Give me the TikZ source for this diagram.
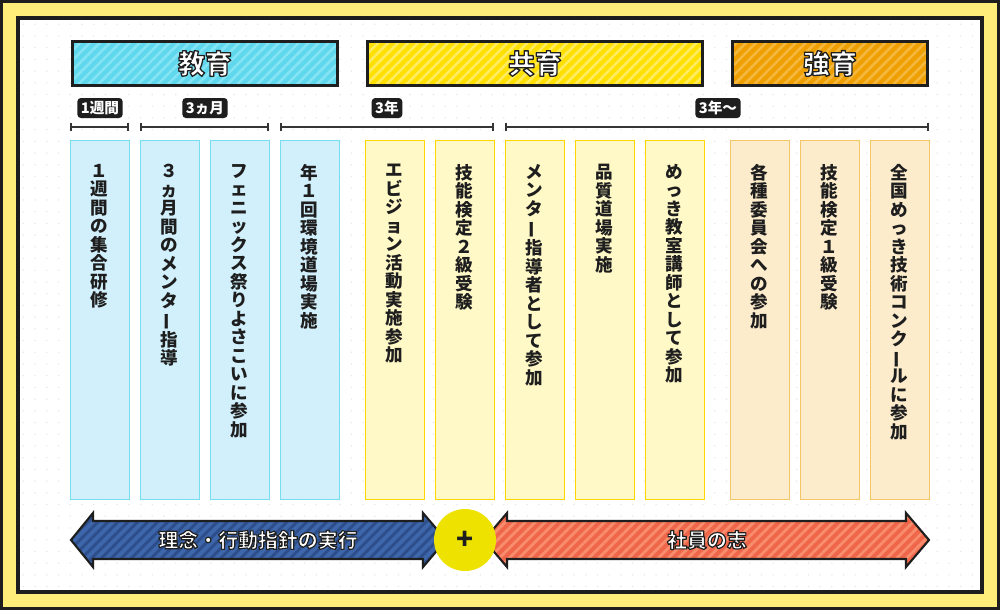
\documentclass[tikz,border=0pt]{standalone}
\usepackage{fontspec}
\usepackage{graphicx}
\setmainfont{Noto Sans CJK JP}
\usetikzlibrary{arrows.meta,patterns.meta}

\definecolor{frameyel}{HTML}{FFEE7A}
\definecolor{ink}{HTML}{1E1E1E}
\definecolor{cyanbase}{HTML}{5FD8EE}
\definecolor{cyanline}{HTML}{85E4F4}
\definecolor{yelbase}{HTML}{FFE000}
\definecolor{yelline}{HTML}{FFEC60}
\definecolor{orabase}{HTML}{EFA000}
\definecolor{oraline}{HTML}{F4B740}
\definecolor{bluebase}{HTML}{3D66AB}
\definecolor{blueline}{HTML}{2D4E8A}
\definecolor{redbase}{HTML}{F0664A}
\definecolor{redline}{HTML}{F78D6C}
\definecolor{plusyel}{HTML}{EEE200}

\newcommand\vbar{\rotatebox[origin=c]{90}{ー}}
% white letters with a dark rim (fill + stroke)
\newcommand\rimtext[2]{\special{pdf:literal direct 2 Tr #1 w 1 j 0.12 0.12 0.12 RG}#2\special{pdf:literal direct 0 Tr}}

\begin{document}
\begin{tikzpicture}[x=0.03cm,y=-0.03cm,
  hdbox/.style={draw=ink,line width=2.6pt,minimum height=1.34cm},
  hdtext/.style={text=white,font=\bfseries\fontsize{23pt}{24pt}\selectfont},
  col/.style={line width=0.7pt,minimum width=1.77cm,minimum height=10.77cm,anchor=north},
  coltext/.style={anchor=north,align=center,text=ink,font=\bfseries\fontsize{15pt}{15.8pt}\selectfont},
  pill/.style={fill=ink,text=white,rounded corners=3pt,minimum height=0.6cm,inner xsep=3pt,inner ysep=0pt,
    font=\bfseries\fontsize{12.5pt}{13pt}\selectfont},
  span/.style={draw=ink!90,line width=1.7pt,{Bar[width=0.26cm]}-{Bar[width=0.26cm]}},
  bigarrow/.style={draw=ink,line width=1.8pt,line join=miter},
  arrtext/.style={text=white,font=\bfseries\fontsize{17pt}{18pt}\selectfont}]
\useasboundingbox (0,0) rectangle (1000,610);

% frame and paper
\draw[ink,line width=2.6pt,fill=frameyel] (1.5,1.5) rectangle (998.5,608.5);
\draw[ink,line width=3.4pt,preaction={fill=white},preaction={pattern={Dots[distance=10pt,radius=0.7pt]},pattern color=black!9}]
  (18,18) rectangle (982,592);

% headers
\node[hdbox,preaction={fill=cyanbase},preaction={pattern={Lines[angle=45,distance=6pt,line width=2.2pt]},pattern color=cyanline}]
  (kyo) at (205,63.5) [minimum width=7.95cm] {};
\node[hdbox,preaction={fill=yelbase},preaction={pattern={Lines[angle=45,distance=6pt,line width=2.2pt]},pattern color=yelline}]
  (tomo) at (535,63.5) [minimum width=10.05cm] {};
\node[hdbox,preaction={fill=orabase},preaction={pattern={Lines[angle=45,distance=6pt,line width=2.2pt]},pattern color=oraline}]
  (tsuyo) at (830,63.5) [minimum width=5.85cm] {};
\node[hdtext] (kyot) at (kyo.center) {\rimtext{1.1}{教育}};
\node[hdtext] (tomot) at (tomo.center) {\rimtext{1.1}{共育}};
\node[hdtext] (tsuyot) at (tsuyo.center) {\rimtext{1.1}{強育}};

% columns
\foreach \x/\n/\t in {99.5/c1/{１\\週\\間\\の\\集\\合\\研\\修},
    169.5/c2/{３\\ヵ\\月\\間\\の\\メ\\ン\\タ\\\vbar\\指\\導},
    239.5/c3/{フ\\ェ\\ニ\\ッ\\ク\\ス\\祭\\り\\よ\\さ\\こ\\い\\に\\参\\加},
    309.5/c4/{年\\１\\回\\環\\境\\道\\場\\実\\施}}{
  \node[col,fill=cyan!18,draw=cyanbase!85] (\n) at (\x,140) {};
  \node[coltext] at ([yshift=-0.6cm]\n.north) {\t};
}
\foreach \x/\n/\t in {394.5/c5/{エ\\ビ\\ジ\\ョ\\ン\\活\\動\\実\\施\\参\\加},
    464.5/c6/{技\\能\\検\\定\\２\\級\\受\\験},
    534.5/c7/{メ\\ン\\タ\\\vbar\\指\\導\\者\\と\\し\\て\\参\\加},
    604.5/c8/{品\\質\\道\\場\\実\\施},
    674.5/c9/{め\\っ\\き\\教\\室\\講\\師\\と\\し\\て\\参\\加}}{
  \node[col,fill=yelbase!22,draw=yelbase!90!orange] (\n) at (\x,140) {};
  \node[coltext] at ([yshift=-0.6cm]\n.north) {\t};
}
\foreach \x/\n/\t in {759.5/c10/{各\\種\\委\\員\\会\\へ\\の\\参\\加},
    829.5/c11/{技\\能\\検\\定\\１\\級\\受\\験},
    899.5/c12/{全\\国\\め\\っ\\き\\技\\術\\コ\\ン\\ク\\\vbar\\ル\\に\\参\\加}}{
  \node[col,fill=orabase!20,draw=orabase!60] (\n) at (\x,140) {};
  \node[coltext] at ([yshift=-0.6cm]\n.north) {\t};
}

% periods
\draw[span] ([yshift=0.39cm]c1.north west) -- ([yshift=0.39cm]c1.north east);
\draw[span] ([yshift=0.39cm]c2.north west) -- ([yshift=0.39cm]c3.north east);
\draw[span] ([yshift=0.39cm]c4.north west) -- ([yshift=0.39cm]c6.north east);
\draw[span] ([yshift=0.39cm]c7.north west) -- ([yshift=0.39cm]c12.north east);
\node[pill] (p1) at (100,108) {1週間};
\node[pill] (p2) at (205,108) {3ヵ月};
\node[pill] (p3) at (387,108) {3年};
\node[pill] (p4) at (718,108) {3年〜};

% bottom arrows
\draw[bigarrow,preaction={fill=bluebase},preaction={pattern={Lines[angle=45,distance=6pt,line width=2.4pt]},pattern color=blueline}]
  (71,540) -- (93,513) -- (93,521) -- (423,521) -- (423,513) -- (446,540) -- (423,567) -- (423,559) -- (93,559) -- (93,567) -- cycle;
\draw[bigarrow,preaction={fill=redbase},preaction={pattern={Lines[angle=45,distance=6pt,line width=2.4pt]},pattern color=redline}]
  (484,540) -- (507,513) -- (507,521) -- (906,521) -- (906,513) -- (929,540) -- (906,567) -- (906,559) -- (507,559) -- (507,567) -- cycle;
\node[circle,fill=plusyel,minimum size=1.86cm,inner sep=0pt,font=\bfseries\fontsize{24pt}{24pt}\selectfont,text=ink] (plus) at (465,540) {+};
\node[arrtext] (rinen) at (258,540) {\rimtext{1.0}{理念・行動指針の実行}};
\node[arrtext] (shain) at (707,540) {\rimtext{1.0}{社員の志}};
\end{tikzpicture}
\end{document}
